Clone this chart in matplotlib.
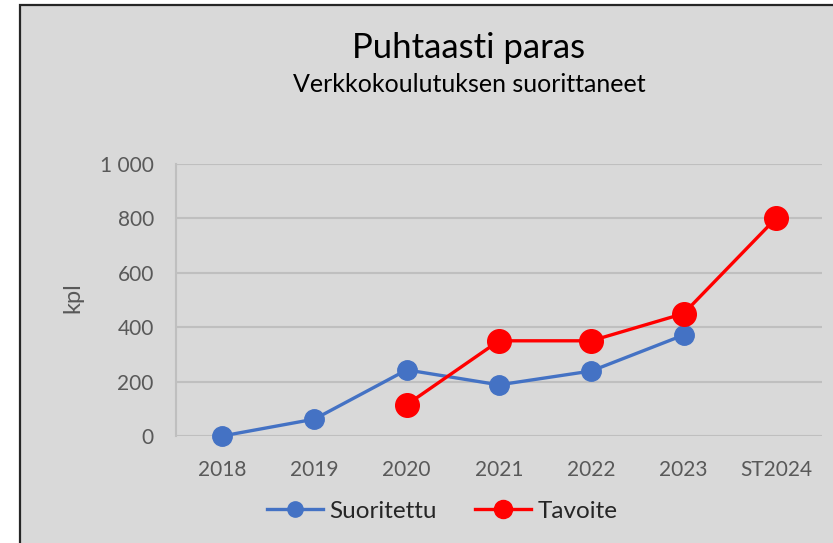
import matplotlib
matplotlib.use("Agg")
import matplotlib.pyplot as plt
from matplotlib.patches import Rectangle
from matplotlib.lines import Line2D
import numpy as np

categories = ["2018", "2019", "2020", "2021", "2022", "2023", "ST2024"]
suoritettu = [0, 62, 243, 188, 239, 371, None]
tavoite = [None, None, 115, 350, 350, 450, 800]
yticks = [0, 200, 400, 600, 800, 1000]
ytick_labels = ["0", "200", "400", "600", "800", "1 000"]

plt.rcParams['font.family'] = ['Lato', 'DejaVu Sans']

W, H = 833, 543
fig = plt.figure(figsize=(W/100, H/100), dpi=100)
fig.patch.set_facecolor("white")
bg = Rectangle((20/W, -0.05), 1.1, 1.05 - 5/H, transform=fig.transFigure,
               facecolor="#d9d9d9", edgecolor="#262626", linewidth=1.6, zorder=-5)
fig.patches.append(bg)

ax = fig.add_axes([176/W, 1 - 436/H, (822-176)/W, (436-164)/H])
ax.set_zorder(2)
ax.set_facecolor("none")
x = np.arange(len(categories))

sx = [i for i, v in enumerate(suoritettu) if v is not None]
sy = [v for v in suoritettu if v is not None]
tx = [i for i, v in enumerate(tavoite) if v is not None]
ty = [v for v in tavoite if v is not None]

ax.plot(sx, sy, color="#4472c4", linewidth=2.4, marker="o", markersize=14, zorder=3, clip_on=False)
ax.plot(tx, ty, color="#ff0000", linewidth=2.4, marker="o", markersize=17, zorder=4, clip_on=False)

ax.set_xlim(-0.5, len(categories) - 0.5)
ax.set_ylim(0, 1000)
ax.set_yticks(yticks)
ax.set_yticklabels(ytick_labels)
ax.set_xticks(x)
ax.set_xticklabels(categories)
ax.grid(axis="y", color="#bfbfbf", linewidth=1.5)
ax.set_axisbelow(True)
for k, s in ax.spines.items():
    s.set_visible(k == "left")
ax.spines["left"].set_color("#bfbfbf")
ax.spines["left"].set_linewidth(1.5)
ax.tick_params(axis="both", length=0, labelsize=15, colors="#595959")
ax.tick_params(axis="y", pad=16)
ax.tick_params(axis="x", pad=17)
ax.set_ylabel("kpl", fontsize=17, color="#595959")
ax.yaxis.label.set_va("center")
ax.yaxis.set_label_coords((73 - 176) / 646, 0.51)

fig.text(469/W, 1 - 48/H, "Puhtaasti paras", ha="center", va="center", fontsize=25, color="#000000")
fig.text(469/W, 1 - 85/H, "Verkkokoulutuksen suorittaneet", ha="center", va="center", fontsize=18, color="#000000")

handles = [Line2D([], [], color="#4472c4", linewidth=2.4, marker="o", markersize=11),
           Line2D([], [], color="#ff0000", linewidth=2.4, marker="o", markersize=13)]
fig.legend(handles, ["Suoritettu", "Tavoite"], loc="center", bbox_to_anchor=(442/W, 1 - 511/H),
           ncol=2, frameon=False, fontsize=17.5, handlelength=2.3, columnspacing=1.6,
           handletextpad=0.25, labelcolor="#262626")

fig.savefig("out.png", dpi=100)
